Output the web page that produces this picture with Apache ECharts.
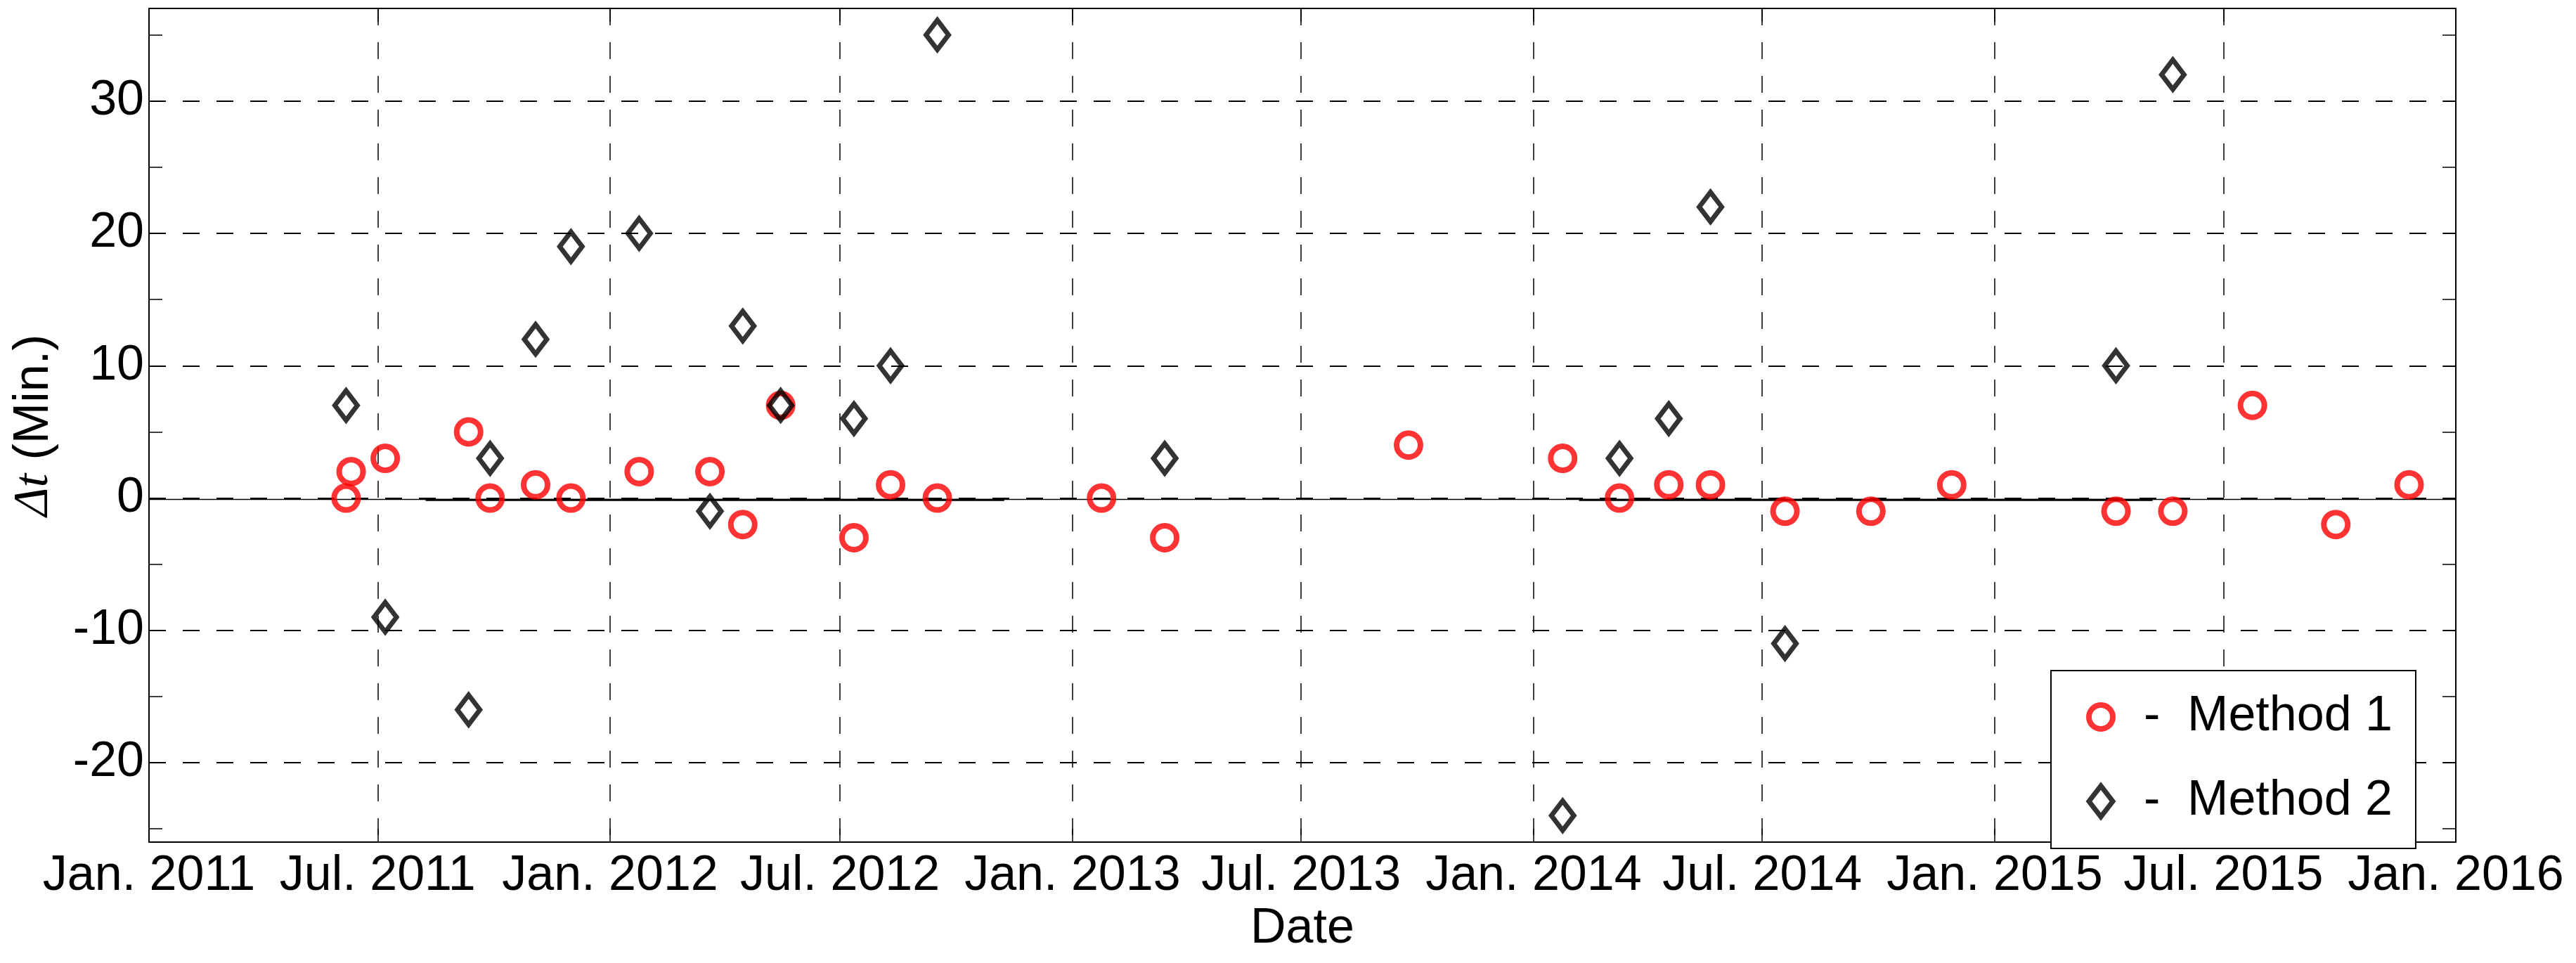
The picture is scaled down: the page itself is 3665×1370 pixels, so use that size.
<!DOCTYPE html>
<html>
<head>
<meta charset="utf-8">
<script src="https://cdn.jsdelivr.net/npm/echarts@6/dist/echarts.min.js"></script>
<style>
html, body { margin: 0; padding: 0; background: #fff; }
#main { width: 3665px; height: 1370px; }
</style>
</head>
<body>
<div id="main"></div>
<script>
// Method 1 (red circles)
var method1Dates = ['2011-06-06', '2011-06-10', '2011-07-07', '2011-09-11', '2011-09-28', '2011-11-03',
  '2011-12-01', '2012-01-24', '2012-03-20', '2012-04-15', '2012-05-15', '2012-07-12', '2012-08-10',
  '2012-09-16', '2013-01-24', '2013-03-15', '2013-09-24', '2014-01-24', '2014-03-10', '2014-04-18',
  '2014-05-21', '2014-07-19', '2014-09-25', '2014-11-28', '2015-04-07', '2015-05-22', '2015-07-24',
  '2015-09-28', '2015-11-25'];
var method1Values = [0, 2, 3, 5, 0, 1, 0, 2, 2, -2, 7, -3, 1, 0, 0, -3, 4, 3, 0, 1, 1, -1, -1, 1, -1, -1, 7, -2, 1];

// Method 2 (black diamonds)
var method2Dates = ['2011-06-06', '2011-07-07', '2011-09-11', '2011-09-28', '2011-11-03', '2011-12-01',
  '2012-01-24', '2012-03-20', '2012-04-15', '2012-05-15', '2012-07-12', '2012-08-10', '2012-09-16',
  '2013-03-15', '2014-01-24', '2014-03-10', '2014-04-18', '2014-05-21', '2014-07-19', '2015-04-07',
  '2015-05-22'];
var method2Values = [7, -9, -16, 3, 12, 19, 20, -1, 13, 7, 6, 10, 35, 3, -24, 3, 6, 22, -11, 10, 32];

// reference lines near zero
var zeroLineDates = ['2011-01-01', '2016-01-01'];
var zeroLineValue = -0.1;
var meanADates = ['2011-08-08', '2012-11-08'];
var meanBDates = ['2014-02-06', '2015-05-06'];
var meanValue = -0.15;

// axes
var xStart = '2011-01-01';
var xEnd = '2016-01-01';
var xTicks = ['2011-01-01', '2011-07-01', '2012-01-01', '2012-07-01', '2013-01-01', '2013-07-01',
  '2014-01-01', '2014-07-01', '2015-01-01', '2015-07-01', '2016-01-01'];
var monthNames = ['Jan.', 'Feb.', 'Mar.', 'Apr.', 'May', 'Jun.', 'Jul.', 'Aug.', 'Sep.', 'Oct.', 'Nov.', 'Dec.'];
var yTicks = [-20, -10, 0, 10, 20, 30];
var yMinorTicks = [-25, -20, -15, -10, -5, 0, 5, 10, 15, 20, 25, 30, 35];

function toTime(s) {
  var p = s.split('-');
  return Date.UTC(+p[0], +p[1] - 1, +p[2]);
}
function pairs(dates, values) {
  return dates.map(function (d, i) { return [toTime(d), values[i]]; });
}
function flat(dates, v) {
  return dates.map(function (d) { return [toTime(d), v]; });
}

var font = 'Liberation Sans, Arial, sans-serif';
var black = '#000';
var circleStyle = { color: 'rgba(0,0,0,0)', borderColor: '#ff0000', borderWidth: 8 };
var diamondStyle = { color: 'rgba(0,0,0,0)', borderColor: black, borderWidth: 7 };
var xTickTimes = xTicks.map(toTime);

var chart = echarts.init(document.getElementById('main'));
chart.setOption({
  animation: false,
  backgroundColor: '#fff',
  grid: { left: 212, right: 171, top: 12, bottom: 172, outerBoundsMode: 'none' },
  legend: {
    orient: 'vertical',
    left: 2918,
    top: 954,
    padding: [31, 33, 32, 50],
    itemGap: 50,
    itemWidth: 34,
    itemHeight: 44,
    backgroundColor: '#fff',
    borderColor: black,
    borderWidth: 2,
    borderRadius: 0,
    selectedMode: false,
    formatter: function (name) { return '  -  ' + name; },
    textStyle: { fontSize: 70, fontFamily: font, color: black, lineHeight: 44 },
    data: [
      { name: 'Method 1', icon: 'circle', itemStyle: circleStyle },
      { name: 'Method 2', icon: 'diamond', itemStyle: diamondStyle }
    ]
  },
  xAxis: [
    {
      type: 'value',
      position: 'bottom',
      min: toTime(xStart),
      max: toTime(xEnd),
      name: 'Date',
      nameLocation: 'middle',
      nameGap: 85,
      nameTextStyle: { fontSize: 70, fontFamily: font, color: black },
      axisLine: { onZero: false, lineStyle: { color: black, width: 2 } },
      axisTick: { inside: true, length: 19, customValues: xTickTimes, lineStyle: { color: black, width: 1.5 } },
      axisLabel: {
        customValues: xTickTimes,
        margin: 14,
        fontSize: 70,
        fontFamily: font,
        color: black,
        formatter: function (v) {
          var d = new Date(v);
          return monthNames[d.getUTCMonth()] + ' ' + d.getUTCFullYear();
        }
      },
      splitLine: { show: true, lineStyle: { color: black, width: 1.5, type: [24, 24] } }
    },
    {
      type: 'value',
      position: 'top',
      min: toTime(xStart),
      max: toTime(xEnd),
      axisLine: { onZero: false, lineStyle: { color: black, width: 2 } },
      axisTick: { inside: true, length: 19, customValues: xTickTimes, lineStyle: { color: black, width: 1.5 } },
      axisLabel: { show: false },
      splitLine: { show: false }
    }
  ],
  yAxis: [
    {
      type: 'value',
      position: 'left',
      min: -26,
      max: 37,
      name: '{i|\u0394t} (Min.)',
      nameLocation: 'middle',
      nameRotate: 90,
      nameGap: 128,
      nameTextStyle: {
        fontSize: 70, fontFamily: font, color: black,
        rich: { i: { fontSize: 70, fontFamily: 'Liberation Serif, serif', fontStyle: 'italic', color: black } }
      },
      axisLine: { onZero: false, lineStyle: { color: black, width: 2 } },
      axisTick: { inside: true, length: 19, customValues: yMinorTicks, lineStyle: { color: black, width: 1.5 } },
      axisLabel: { customValues: yTicks, margin: 7, fontSize: 70, fontFamily: font, color: black },
      splitLine: { show: false }
    },
    {
      type: 'value',
      position: 'right',
      min: -26,
      max: 37,
      axisLine: { show: true, onZero: false, lineStyle: { color: black, width: 2 } },
      axisTick: { inside: true, length: 19, customValues: yMinorTicks, lineStyle: { color: black, width: 1.5 } },
      axisLabel: { show: false },
      splitLine: { show: false }
    },
    {
      type: 'value',
      position: 'left',
      min: -26,
      max: 37,
      axisLine: { show: false, onZero: false },
      axisTick: { show: false, customValues: yTicks },
      axisLabel: { show: false },
      splitLine: { show: true, lineStyle: { color: black, width: 2, type: [24, 24] } }
    }
  ],
  series: [
    {
      type: 'line', silent: true, symbol: 'none', z: 2,
      lineStyle: { color: black, width: 1.5 },
      data: flat(zeroLineDates, zeroLineValue)
    },
    {
      type: 'line', silent: true, symbol: 'none', z: 2,
      lineStyle: { color: black, width: 3 },
      data: flat(meanADates, meanValue)
    },
    {
      type: 'line', silent: true, symbol: 'none', z: 2,
      lineStyle: { color: black, width: 3 },
      data: flat(meanBDates, meanValue)
    },
    {
      name: 'Method 1', type: 'scatter', z: 3,
      symbol: 'circle', symbolSize: 34,
      itemStyle: circleStyle,
      data: pairs(method1Dates, method1Values)
    },
    {
      name: 'Method 2', type: 'scatter', z: 4,
      symbol: 'diamond', symbolSize: [32, 42],
      itemStyle: diamondStyle,
      data: pairs(method2Dates, method2Values)
    }
  ]
});
</script>
</body>
</html>
